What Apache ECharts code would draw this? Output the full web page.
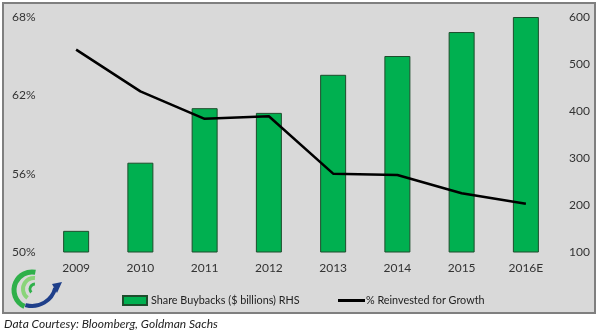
<!DOCTYPE html>
<html><head><meta charset="utf-8">
<script src="https://cdn.jsdelivr.net/npm/echarts@6/dist/echarts.min.js"></script>
<style>html,body{margin:0;padding:0;background:#fff}#c{width:600px;height:335px}</style>
</head><body><div id="c"></div>
<script>
var categories = ['2009','2010','2011','2012','2013','2014','2015','2016E'];
var buybacks = [145, 290, 406, 396, 477, 517, 568, 600];
var reinvested = [65.5, 62.3, 60.2, 60.4, 56.0, 55.9, 54.5, 53.7];
var leftTicks = [50, 56, 62, 68];
var rightTicks = [100, 200, 300, 400, 500, 600];

var chart = echarts.init(document.getElementById('c'));
var font = 'Lato, Open Sans, sans-serif';
chart.setOption({
  animation: false,
  graphic: [
    {type:'rect', shape:{x:3,y:3,width:592,height:310}, style:{fill:'#d9d9d9', stroke:'#7f7f7f', lineWidth:2}, z:-10},
    {type:'text', left:4, top:318, style:{text:'Data Courtesy: Bloomberg, Goldman Sachs', font:'italic 12px '+font, fill:'#222'}},
    {type:'arc', shape:{cx:32,cy:290,r:18,startAngle:2.0,endAngle:4.9}, style:{stroke:'#2fb04a',lineWidth:5,fill:null}},
    {type:'arc', shape:{cx:34,cy:289,r:11,startAngle:2.2,endAngle:4.8}, style:{stroke:'#8ad47a',lineWidth:4,fill:null}},
    {type:'arc', shape:{cx:35,cy:289,r:5,startAngle:2.4,endAngle:4.7}, style:{stroke:'#2fb04a',lineWidth:3,fill:null}},
    {type:'arc', shape:{cx:32,cy:282,r:24,startAngle:0.25,endAngle:1.85}, style:{stroke:'#1f3f8a',lineWidth:4,fill:null}},
    {type:'polygon', shape:{points:[[52,284],[62,282],[57,293]]}, style:{fill:'#1f3f8a'}}
  ],
  grid: {left:44, right:42, top:17, bottom:83},
  legend: [
    {left:117, top:290, itemWidth:24, itemHeight:9, itemGap:3,
     textStyle:{fontFamily:font, fontSize:10.8, color:'#222', padding:[0,0,0,-1]},
     data:[{name:'Share Buybacks ($ billions) RHS', icon:'rect'}]},
    {left:333, top:290, itemWidth:27, itemHeight:3, itemGap:3,
     textStyle:{fontFamily:font, fontSize:10.8, color:'#222', padding:[0,0,0,-4]},
     data:[{name:'% Reinvested for Growth', icon:'rect'}]}
  ],
  xAxis: {
    type:'category', data:categories,
    axisLine:{show:false}, axisTick:{show:false},
    axisLabel:{fontFamily:font, fontSize:12, color:'#333', margin:10}
  },
  yAxis: [
    {type:'value', position:'left', min:50, max:68, splitLine:{show:false},
     axisLine:{show:false}, axisTick:{show:false},
     axisLabel:{customValues:leftTicks, formatter:'{value}%', align:'left', margin:32,
       fontFamily:font, fontSize:12, color:'#333'}},
    {type:'value', position:'right', min:100, max:600, interval:100, splitLine:{show:false},
     axisLine:{show:false}, axisTick:{show:false},
     axisLabel:{margin:11, fontFamily:font, fontSize:12, color:'#333'}}
  ],
  series: [
    {name:'Share Buybacks ($ billions) RHS', type:'bar', yAxisIndex:1, data:buybacks, barWidth:26,
     itemStyle:{color:'#00b050', borderColor:'#1d4d2c', borderWidth:1}},
    {name:'% Reinvested for Growth', type:'line', yAxisIndex:0, data:reinvested, symbol:'none',
     lineStyle:{color:'#000', width:2.5}, itemStyle:{color:'#000'}, z:5}
  ]
});
</script></body></html>
